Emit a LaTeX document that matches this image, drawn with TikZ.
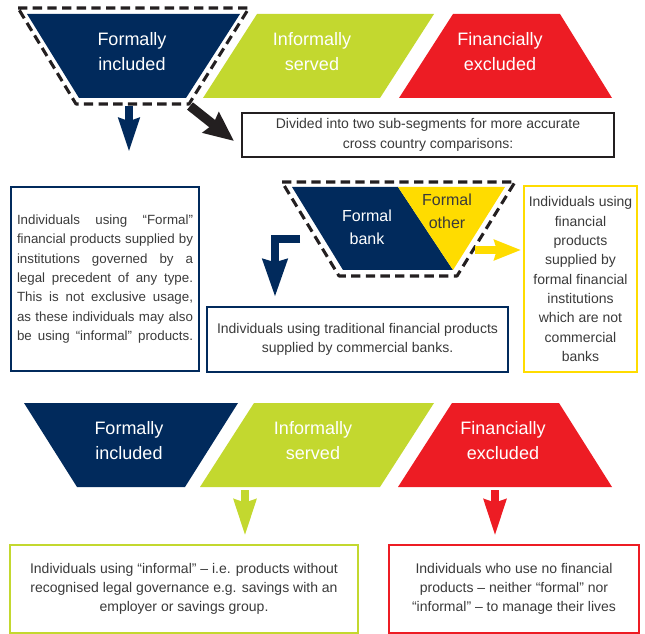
\documentclass[tikz,border=0pt]{standalone}
\usepackage{fontspec}
\setmainfont{Liberation Sans}
\usetikzlibrary{arrows.meta, positioning}

\definecolor{finnavy}{HTML}{012A5C}
\definecolor{finlime}{HTML}{C3D82F}
\definecolor{finred}{HTML}{ED1C24}
\definecolor{finyellow}{HTML}{FFDC00}
\definecolor{finink}{HTML}{231F20}
\definecolor{fintext}{HTML}{3A3A3A}

% one justified line of the left box
\newcommand{\fullline}[1]{\hbox to 132pt{\spaceskip=0.25em plus 1fil\relax #1}}

\tikzset{
	segment/.style={text=white, align=center, font=\fontsize{13.5}{18.75}\selectfont},
	subsegment/.style={align=center, font=\fontsize{12}{17}\selectfont},
	infobox/.style={draw=#1, line width=1.1pt, text=fintext, align=center, inner sep=0pt,
		font=\fontsize{10.5}{14.5}\selectfont},
	dashring/.style={draw=finink, line width=2.3pt, dash pattern=on 7pt off 4pt, line join=round},
	blockarrow/.style={draw=#1, line width=6pt, -{Stealth[length=25pt, width=15pt, inset=2pt]}},
}

\begin{document}
\begin{tikzpicture}[x=0.75pt, y=-0.75pt]
	\useasboundingbox (0,0) rectangle (645,634);
	
	% top row of segments
	\fill[finnavy] (27,14) -- (240,14) -- (186,98) -- (79,98) -- cycle;
	\fill[finlime] (257,14) -- (434,14) -- (380,98) -- (203,98) -- cycle;
	\fill[finred] (453,14) -- (560,14) -- (612,98) -- (399,98) -- cycle;
	\node[segment] (fi-top) at (132,52) {Formally\\included};
	\node[segment] (is-top) at (312,52) {Informally\\served};
	\node[segment] (fe-top) at (500,52) {Financially\\excluded};
	\draw[dashring] (18,8) -- (249,8) -- (189,104) -- (76,104) -- cycle;
	
	\node[infobox=finink, line width=0.9pt, minimum width=279pt, minimum height=33pt] (divbox) at (428,135)
		{Divided into two sub-segments for more accurate\\cross country comparisons:};
	
	\coordinate (fi-down) at (129,106);
	\coordinate (fi-down-end) at (129,152);
	\coordinate (fi-out) at (190,106);
	\coordinate (div-in) at (234,141);
	\draw[blockarrow=finnavy] (fi-down) -- (fi-down-end);
	\draw[blockarrow=finink, line width=7pt, -{Stealth[length=22pt, width=19pt, inset=2pt]}] (fi-out) -- (div-in);
	
	\node[infobox=finnavy, minimum width=141pt, minimum height=138pt, text width=132pt] (formalbox) at (105,279)
		{\fontsize{10}{14.5}\selectfont
		\fullline{Individuals using “Formal”}
		\fullline{financial products supplied by}
		\fullline{institutions governed by a}
		\fullline{legal precedent of any type.}
		\fullline{This is not exclusive usage,}
		\fullline{as these individuals may also}
		\fullline{be using “informal” products.}};
	
	% formal bank / formal other split
	\fill[finnavy] (292,187) -- (398,187) -- (453,270) -- (343,270) -- cycle;
	\fill[finyellow] (398,187) -- (505,187) -- (453,270) -- cycle;
	\node[subsegment, text=white] (bank) at (367,227) {Formal\\bank};
	\node[subsegment, text=fintext] (other) at (447,211) {Formal\\other};
	\draw[dashring] (282,182) -- (515,182) -- (457,276) -- (339,276) -- cycle;
	
	\node[infobox=finnavy, minimum width=225.75pt, minimum height=48.75pt] (bankbox) at (357.5,339.5)
		{Individuals using traditional financial products\\supplied by commercial banks.};
	\node[infobox=finyellow, minimum width=84.75pt, minimum height=139.5pt] (otherbox) at (580.5,279)
		{Individuals using\\financial\\products\\supplied by\\formal financial\\institutions\\which are not\\commercial\\banks};
	
	\coordinate (bank-out) at (300,239);
	\coordinate (bank-in) at (275,297);
	\coordinate (other-out) at (475,250);
	\coordinate (other-in) at (521,250);
	\draw[blockarrow=finnavy, line join=miter, -{Stealth[length=28pt, width=18pt, inset=2pt]}] (bank-out) -| (bank-in);
	\draw[blockarrow=finyellow, -{Stealth[length=20pt, width=15pt, inset=2pt]}] (other-out) -- (other-in);
	
	% bottom row of segments
	\fill[finnavy] (24,403) -- (238,403) -- (185,487) -- (77,487) -- cycle;
	\fill[finlime] (254,403) -- (434,403) -- (380,487) -- (200,487) -- cycle;
	\fill[finred] (452,403) -- (559,403) -- (612,487) -- (398,487) -- cycle;
	\node[segment] (fi-bot) at (129,441) {Formally\\included};
	\node[segment] (is-bot) at (313,441) {Informally\\served};
	\node[segment] (fe-bot) at (503,441) {Financially\\excluded};
	
	\coordinate (is-down) at (245,490);
	\coordinate (is-down-end) at (245,536);
	\coordinate (fe-down) at (495,490);
	\coordinate (fe-down-end) at (495,536);
	\draw[blockarrow=finlime, -{Stealth[length=27pt, width=16pt, inset=2pt]}] (is-down) -- (is-down-end);
	\draw[blockarrow=finred, -{Stealth[length=27pt, width=16pt, inset=2pt]}] (fe-down) -- (fe-down-end);
	
	\node[infobox=finlime, minimum width=261pt, minimum height=66pt] (informalbox) at (184,589)
		{Individuals using “informal” – i.e. products without\\recognised legal governance e.g. savings with an\\employer or savings group.};
	\node[infobox=finred, minimum width=187.5pt, minimum height=66pt] (excludedbox) at (514,589)
		{Individuals who use no financial\\products – neither “formal” nor\\“informal” – to manage their lives};
\end{tikzpicture}
\end{document}
